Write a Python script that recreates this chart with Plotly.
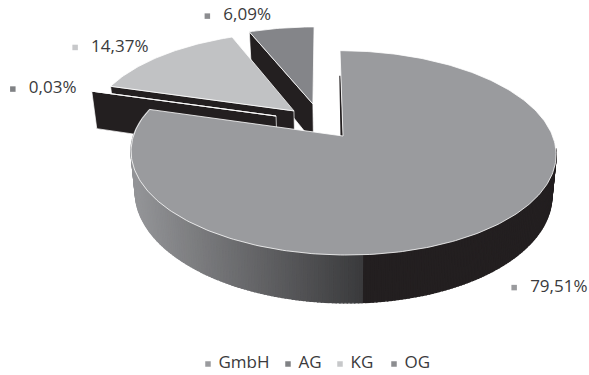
import numpy as np
import plotly.graph_objects as go

# Company legal forms and their share in percent
categories = ["GmbH", "AG", "KG", "OG"]
shares = [79.51, 0.03, 14.37, 6.09]
share_labels = ["79,51%", "0,03%", "14,37%", "6,09%"]

TOP_COLORS = {"GmbH": "#9a9b9e", "AG": "#231f20", "KG": "#c1c2c4", "OG": "#848589"}
MARKER_COLORS = {"GmbH": "#9a9b9e", "AG": "#808285", "KG": "#c7c8ca", "OG": "#8c8d90"}
DARK = "#231f20"
TEXT = "#3a3a3c"
FONT = "Open Sans"
PULLS = {"GmbH": 0.18, "AG": 0.228, "KG": 0.178, "OG": 0.2}

# Camera model for the tilted disc
CX, CY = 343.0, 136.0
A, B = 209.6, 99.4
PERSP = 0.165
SKEW = 3.5
HEIGHT = 40.5
BASE_SCALE = 0.98


def project(u, v, low=False):
    u, v = np.asarray(u, float), np.asarray(v, float)
    w = 1 + PERSP * v
    if low:
        return CX + BASE_SCALE * (A * u - SKEW * v) / w, CY + (-B * v + HEIGHT) / w
    return CX + (A * u - SKEW * v) / w, CY - B * v / w


def mix(c0, c1, f):
    a = [int(c0[i:i + 2], 16) for i in (1, 3, 5)]
    b = [int(c1[i:i + 2], 16) for i in (1, 3, 5)]
    return "rgb(%d,%d,%d)" % tuple(round(x + (y - x) * f) for x, y in zip(a, b))


def polygon(x, y, fill, line=None, width=0.0):
    return go.Scatter(x=list(x), y=list(y), mode="lines", fill="toself", fillcolor=fill,
                      line=dict(color=line or fill, width=width if line else 1.4),
                      hoverinfo="skip", showlegend=False)


# Slice angles, clockwise from the back of the disc
ends = np.cumsum(shares) / 100 * 2 * np.pi
starts = np.r_[0, ends[:-1]]
mids = (starts + ends) / 2
ref_pull = PULLS[categories[0]]
ref_u, ref_v = ref_pull * np.sin(mids[0]), ref_pull * np.cos(mids[0])
centers = [(PULLS[c] * np.sin(m) - ref_u, PULLS[c] * np.cos(m) - ref_v)
           for c, m in zip(categories, mids)]

traces = []
# Back to front so nearer slices cover the farther ones
for idx in [3, 2, 1, 0]:
    name = categories[idx]
    cu, cv = centers[idx]
    t = np.linspace(starts[idx], ends[idx], max(3, int((ends[idx] - starts[idx]) * 60)))
    ru, rv = cu + np.sin(t), cv + np.cos(t)

    if idx == 0:
        # Outer wall of the large slice, shaded strip by strip
        tw = np.linspace(np.radians(97), ends[0], 220)
        for a0, a1 in zip(tw[:-1], tw[1:]):
            ts = np.array([a0, a1])
            x0, y0 = project(cu + np.sin(ts), cv + np.cos(ts))
            x1, y1 = project(cu + np.sin(ts), cv + np.cos(ts), low=True)
            f = np.clip((x0.mean() - 135) / (362 - 135), 0, 1)
            col = DARK if f >= 1 else mix("#939497", "#3a3a3c", f)
            inset = 0.7  # keeps the strip outline inside the wall's silhouette
            traces.append(polygon(np.r_[x0, x1[::-1], x0[0]],
                                  np.r_[y0, y1[::-1] - inset, y0[0]], col))
        # Thin radial wall at the start of the slice
        ax, ay = project(cu, cv)
        bx, by = project(cu + np.sin(t[0]), cv + np.cos(t[0]))
        traces.append(polygon([bx, ax - 1.8, ax - 0.6, bx], [by + 25, ay, ay, by + 25], DARK))
    else:
        # Radial wall at the slice's start edge
        ax, ay = project(cu, cv)
        bx, by = project(cu + np.sin(t[0]), cv + np.cos(t[0]))
        ax1, ay1 = project(cu, cv, low=True)
        bx1, by1 = project(cu + np.sin(t[0]), cv + np.cos(t[0]), low=True)
        traces.append(polygon([bx, ax, ax1, bx1, bx], [by, ay, ay1, by1, by], DARK, "#ffffff", 0.7))

    # Top face
    tx, ty = project(ru, rv)
    ax, ay = project(cu, cv)
    traces.append(polygon(np.r_[ax, tx, ax], np.r_[ay, ty, ay], TOP_COLORS[name], "#ffffff", 0.8))

# Value labels sit beside their slices, anchored on the rim at mid angle
label_shift = {"GmbH": (23, 60), "AG": (-79, -2), "KG": (-87, -8), "OG": (-74, -12)}
for i, name in enumerate(categories):
    mx, my = project(centers[i][0] + np.sin(mids[i]), centers[i][1] + np.cos(mids[i]))
    dx, dy = label_shift[name]
    traces.append(go.Scatter(x=[float(mx) + dx], y=[float(my) + dy], mode="markers",
                             marker=dict(symbol="square", size=5.5, color=MARKER_COLORS[name]),
                             hoverinfo="skip", showlegend=False))
    traces.append(go.Scatter(x=[float(mx) + dx + 16], y=[float(my) + dy], mode="text",
                             text=[share_labels[i]], textposition="middle right",
                             textfont=dict(family=FONT, size=17, color=TEXT),
                             hoverinfo="skip", showlegend=False))

# Legend row under the pie
legend_x = dict(zip(categories, [208, 288, 340, 394]))
for name in categories:
    traces.append(go.Scatter(x=[legend_x[name]], y=[364], mode="markers",
                             marker=dict(symbol="square", size=5.5, color=MARKER_COLORS[name]),
                             hoverinfo="skip", showlegend=False))
    traces.append(go.Scatter(x=[legend_x[name] + 10.5], y=[364], mode="text", text=[name],
                             textposition="middle right",
                             textfont=dict(family=FONT, size=17, color=TEXT),
                             hoverinfo="skip", showlegend=False))

fig = go.Figure(traces)
fig.update_layout(width=589, height=375, autosize=False, margin=dict(l=0, r=0, t=0, b=0),
                  paper_bgcolor="#ffffff", plot_bgcolor="#ffffff", showlegend=False,
                  xaxis=dict(range=[0, 589], visible=False, fixedrange=True),
                  yaxis=dict(range=[375, 0], visible=False, fixedrange=True))
fig.write_html("out.html", config=dict(displayModeBar=False))
